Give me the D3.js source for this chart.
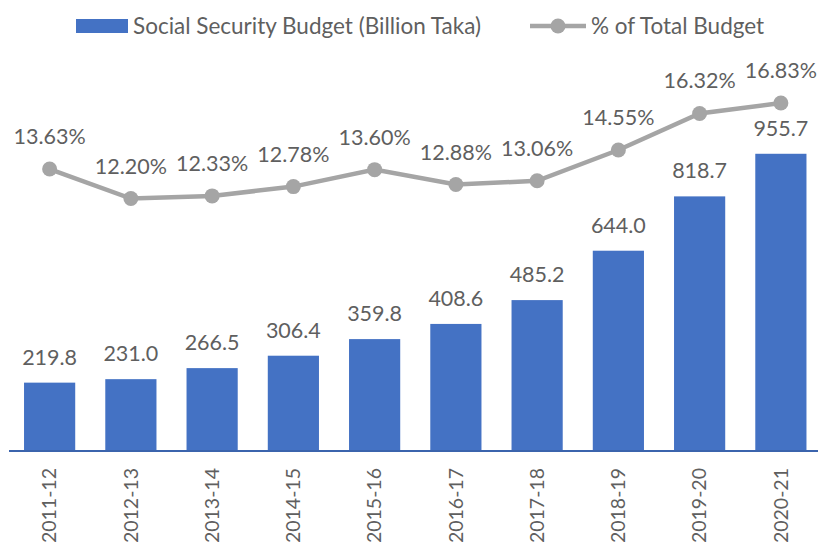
<!DOCTYPE html>
<html><head><meta charset="utf-8">
<script src="https://cdn.jsdelivr.net/npm/d3@7"></script>
<style>body{margin:0;background:#fff}svg{display:block}text{font-family:Lato,"Open Sans",sans-serif;fill:#5f5f5f}</style>
</head><body><svg id="c" width="818" height="544"></svg>
<script>
const categories = ["2011-12","2012-13","2013-14","2014-15","2015-16","2016-17","2017-18","2018-19","2019-20","2020-21"];
const budget = [219.8,231.0,266.5,306.4,359.8,408.6,485.2,644.0,818.7,955.7];
const pctTotal = [13.63,12.20,12.33,12.78,13.60,12.88,13.06,14.55,16.32,16.83];
const seriesNames = ["Social Security Budget (Billion Taka)","% of Total Budget"];

const svg = d3.select("#c");
const x = d3.scaleBand().domain(categories).range([9,821.5]).paddingInner(0.37).paddingOuter(0.185);
const yB = d3.scaleLinear().domain([0,1200]).range([451,77.8]);
const yP = d3.scaleLinear().domain([0,18]).range([450.5,78.8]);

svg.selectAll("rect.bar").data(budget).join("rect").attr("class","bar")
  .attr("x",(d,i)=>x(categories[i])).attr("width",x.bandwidth())
  .attr("y",d=>yB(d)).attr("height",d=>yB(0)-yB(d)).attr("fill","#4472C4");

svg.selectAll("text.bl").data(budget).join("text").attr("class","bl")
  .attr("x",(d,i)=>x(categories[i])+x.bandwidth()/2).attr("y",d=>yB(d)-18)
  .attr("text-anchor","middle").attr("font-size",21.5).text(d=>d.toFixed(1));

// axis
const ax = svg.append("g").attr("transform","translate(0,451)").call(d3.axisBottom(x).tickSize(0).tickPadding(0));
ax.select(".domain").attr("stroke","#3B64AD").attr("stroke-width",2).attr("d","M9,0H818");
ax.selectAll(".tick text").attr("transform","rotate(-90)").attr("text-anchor","end")
  .attr("x",-17).attr("y",0).attr("dy","0.35em").attr("font-size",19.5).attr("fill","#5f5f5f")
  .style("font-family","Lato,'Open Sans',sans-serif");

const line = d3.line().x((d,i)=>x(categories[i])+x.bandwidth()/2).y(d=>yP(d));
svg.append("path").datum(pctTotal).attr("d",line).attr("fill","none").attr("stroke","#A5A5A5").attr("stroke-width",4.5);
svg.selectAll("circle.pt").data(pctTotal).join("circle").attr("class","pt")
  .attr("cx",(d,i)=>x(categories[i])+x.bandwidth()/2).attr("cy",d=>yP(d)).attr("r",7.5).attr("fill","#A5A5A5");
svg.selectAll("text.pl").data(pctTotal).join("text").attr("class","pl")
  .attr("x",(d,i)=>x(categories[i])+x.bandwidth()/2).attr("y",d=>yP(d)-25)
  .attr("text-anchor","middle").attr("font-size",21.5).text(d=>d.toFixed(2)+"%");

// legend
const lg = svg.append("g");
lg.append("rect").attr("x",76).attr("y",19).attr("width",52).attr("height",14).attr("fill","#4472C4");
lg.append("text").attr("x",133).attr("y",26).attr("dy","0.35em").attr("font-size",22.5).text(seriesNames[0]);
lg.append("line").attr("x1",530).attr("x2",586).attr("y1",26).attr("y2",26).attr("stroke","#A5A5A5").attr("stroke-width",4.5);
lg.append("circle").attr("cx",558).attr("cy",26).attr("r",7.5).attr("fill","#A5A5A5");
lg.append("text").attr("x",591).attr("y",26).attr("dy","0.35em").attr("font-size",22.5).text(seriesNames[1]);
</script></body></html>
